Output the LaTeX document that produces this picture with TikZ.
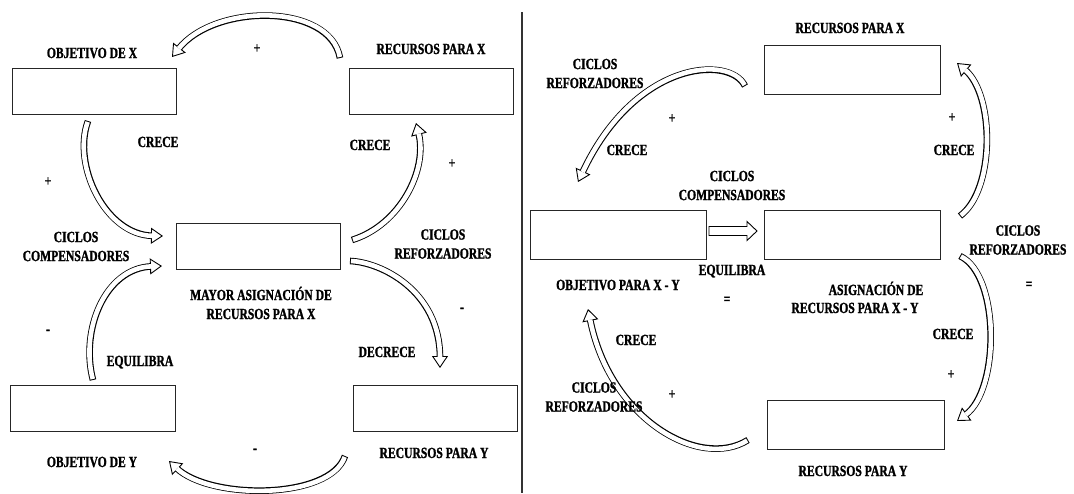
\documentclass[tikz,border=0pt]{standalone}
\usepackage{fontspec}
\newfontfamily\lblfont{Liberation Serif}[FakeStretch=0.75, FakeBold=1.2]
\usetikzlibrary{arrows.meta,calc}
\tikzset{
  lbl/.style={font=\lblfont\bfseries\fontsize{15.5pt}{19pt}\selectfont, inner sep=0pt, outer sep=0pt, align=center},
  tx/.style={lbl, anchor=base},
  ml/.style={lbl, anchor=center},
  box/.style={draw=black!85, line width=0.9pt, fill=white, inner sep=0pt, outer sep=0pt, anchor=north west},
  bandout/.style={line width=6.6pt, black, shorten >=10pt},
  bandhead/.style={white, line width=0.3pt, shorten <=3pt, -{Triangle[length=12pt, width=16pt, color=black, fill=white, line width=0.9pt]}},
  bandin/.style={line width=4.6pt, white, shorten >=11pt, shorten <=1pt},
}
\newcommand{\barrow}[1]{%
  \draw[bandout] #1;
  \draw[bandhead] #1;
  \draw[bandin] #1;}
\begin{document}
\begin{tikzpicture}[x=1pt,y=-1pt]
\useasboundingbox (0,0) rectangle (1074,493);
\fill[white] (0,0) rectangle (1074,493);

% divider
\coordinate (dt) at (522,12);
\coordinate (db) at (522,493);
\draw[line width=1.2pt, black!80] (dt) -- (db);

% ---------- left half boxes ----------
\node[box, minimum width=164pt, minimum height=46pt] (ox) at (12,68) {};
\node[box, minimum width=164pt, minimum height=46pt] (rx) at (349,68) {};
\node[box, minimum width=164pt, minimum height=46pt] (mc) at (176,223) {};
\node[box, minimum width=165pt, minimum height=46pt] (oy) at (10,385) {};
\node[box, minimum width=164pt, minimum height=46pt] (ry) at (353,385) {};

% left arrows
\coordinate (a1s) at (340,58);  \coordinate (a1e) at (172,57);
\barrow{(a1s) .. controls (330,3) and (215,3) .. (a1e)}
\coordinate (a2s) at (88,121);  \coordinate (a2e) at (163,236);
\barrow{(a2s) .. controls (72,165) and (105,235) .. (a2e)}
\coordinate (a3s) at (352,240); \coordinate (a3e) at (416,123);
\barrow{(a3s) .. controls (400,225) and (428,170) .. (a3e)}
\coordinate (a4s) at (93,380);  \coordinate (a4e) at (162,266);
\barrow{(a4s) .. controls (80,330) and (105,268) .. (a4e)}
\coordinate (a5s) at (350,261); \coordinate (a5e) at (440,368);
\barrow{(a5s) .. controls (380,262) and (440,290) .. (a5e)}
\coordinate (a6s) at (345,456); \coordinate (a6e) at (169,461);
\barrow{(a6s) .. controls (330,500) and (210,500) .. (a6e)}

% left labels
\node[tx] (t1) at (92,58) {OBJETIVO DE X};
\node[tx] (t2) at (257,53) {+};
\node[tx] (t3) at (431,54) {RECURSOS PARA X};
\node[tx] (t4) at (158,147) {CRECE};
\node[tx] (t5) at (370,150) {CRECE};
\node[tx] (t6) at (452,168) {+};
\node[tx] (t7) at (48,186) {+};
\node[ml] (t8) at (76,246.5) {CICLOS\\COMPENSADORES};
\node[ml] (t9) at (443,244) {CICLOS\\REFORZADORES};
\node[ml] (t10) at (261,303) {MAYOR ASIGNACIÓN DE\\RECURSOS PARA X};
\node[tx] (t11) at (462,312) {-};
\node[tx] (t12) at (48,334) {-};
\node[tx] (t13) at (140,366) {EQUILIBRA};
\node[tx] (t14) at (387,357) {DECRECE};
\node[tx] (t15) at (255,453) {-};
\node[tx] (t16) at (92,467) {OBJETIVO DE Y};
\node[tx] (t17) at (434,458) {RECURSOS PARA Y};

% ---------- right half boxes ----------
\node[box, minimum width=176pt, minimum height=49pt] (rx2) at (764,45) {};
\node[box, minimum width=176pt, minimum height=49pt] (oxy) at (530,210) {};
\node[box, minimum width=176pt, minimum height=49pt] (axy) at (764,210) {};
\node[box, minimum width=177pt, minimum height=49pt] (ry2) at (767,400) {};

% right arrows
\coordinate (b1s) at (745,86);  \coordinate (b1e) at (578,182);
\barrow{(b1s) .. controls (730,55) and (635,60) .. (b1e)}
\coordinate (b2s) at (960,216); \coordinate (b2e) at (957,63);
\barrow{(b2s) .. controls (995,190) and (995,95) .. (b2e)}
\coordinate (b3s) at (960,256); \coordinate (b3e) at (957,421);
\barrow{(b3s) .. controls (1000,275) and (1000,390) .. (b3e)}
\coordinate (b4s) at (748,440); \coordinate (b4e) at (588,309);
\barrow{(b4s) .. controls (700,470) and (610,420) .. (b4e)}

% straight hollow arrow (block shape)
\coordinate (hs) at (709,231); \coordinate (he) at (757,231);
\draw[line width=0.9pt, fill=white, line join=miter]
  ($(hs)+(0,-4.5)$) -- ($(he)+(-10,-4.5)$) -- ($(he)+(-10,-9.5)$) -- (he)
  -- ($(he)+(-10,9.5)$) -- ($(he)+(-10,4.5)$) -- ($(hs)+(0,4.5)$) -- cycle;

% right labels
\node[tx] (u1) at (850,33) {RECURSOS PARA X};
\node[ml] (u2) at (595,73.5) {CICLOS\\REFORZADORES};
\node[tx] (u3) at (672,123) {+};
\node[tx] (u4) at (627,155) {CRECE};
\node[tx] (u5) at (952,122) {+};
\node[tx] (u6) at (954,155) {CRECE};
\node[ml] (u7) at (732,185.5) {CICLOS\\COMPENSADORES};
\node[ml] (u8) at (1018,240) {CICLOS\\REFORZADORES};
\node[tx] (u9) at (732,275) {EQUILIBRA};
\node[tx] (u10) at (618,290) {OBJETIVO PARA X - Y};
\node[tx] (u11) at (727,304) {=};
\node[tx] (u12) at (876,295) {ASIGNACIÓN DE};
\node[tx] (u13) at (855,313) {RECURSOS PARA X - Y};
\node[tx] (u14) at (1029,289) {=};
\node[tx] (u15) at (636,345) {CRECE};
\node[ml] (u16) at (594,397) {CICLOS\\REFORZADORES};
\node[tx] (u17) at (672,399) {+};
\node[tx] (u18) at (953,339) {CRECE};
\node[tx] (u19) at (951,379) {+};
\node[tx] (u20) at (853,476) {RECURSOS PARA Y};
\end{tikzpicture}
\end{document}
